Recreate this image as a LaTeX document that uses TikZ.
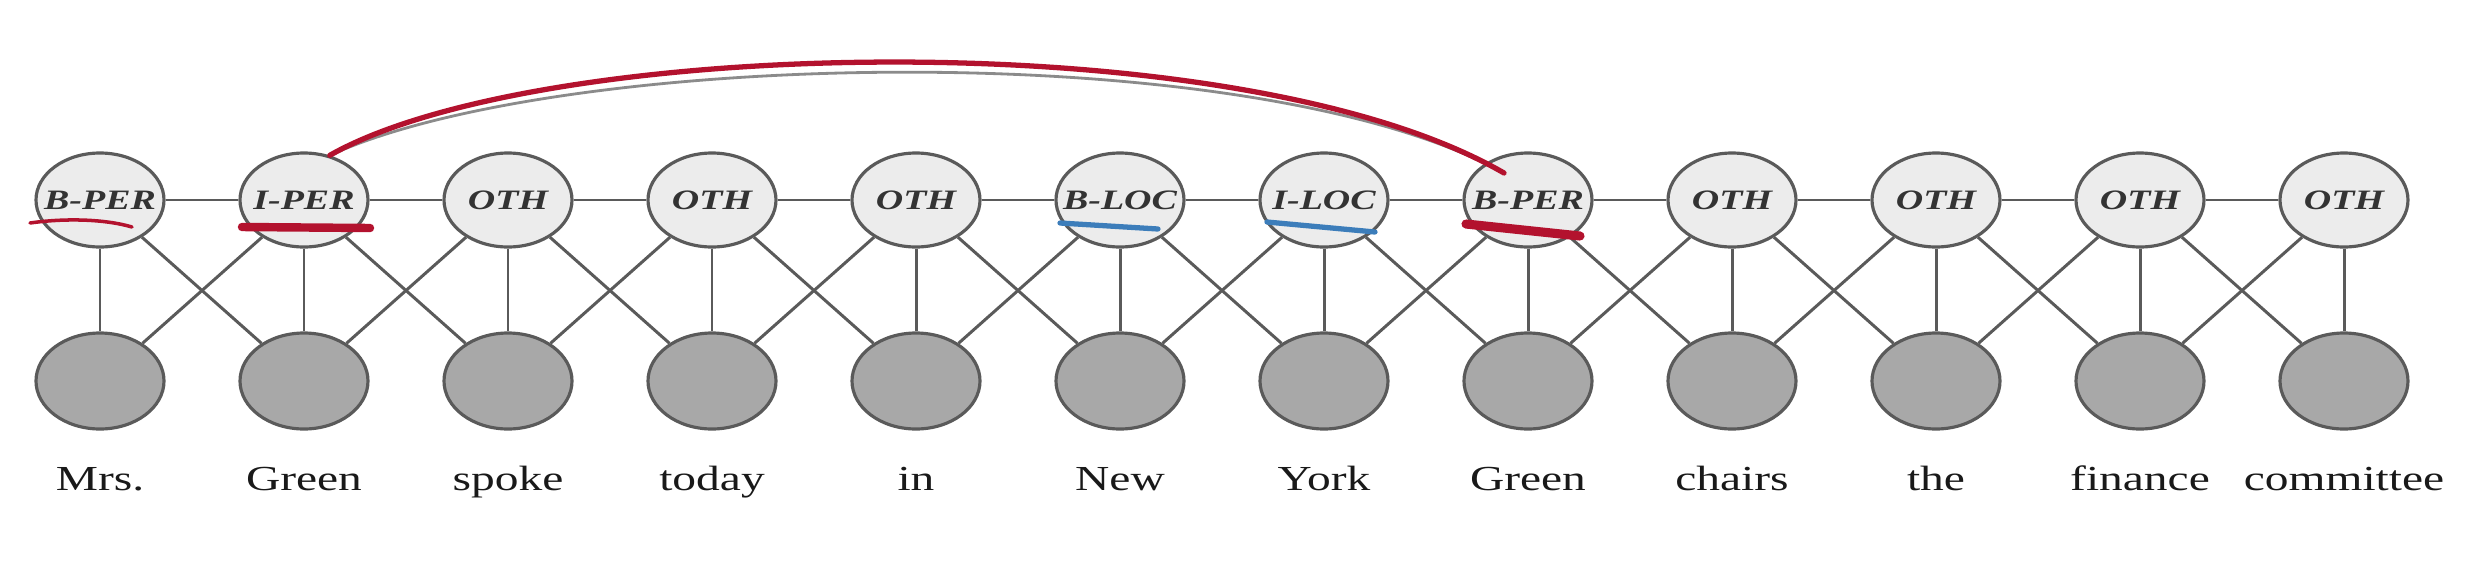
\documentclass[tikz,border=0pt]{standalone}
\usepackage{fontspec}
\setmainfont{Liberation Serif}[FakeStretch=1.35]
\usetikzlibrary{shapes.geometric}
\definecolor{linegray}{HTML}{5A5A5A}
\definecolor{tagfill}{HTML}{ECECEC}
\definecolor{obsfill}{HTML}{A8A8A8}
\definecolor{penred}{HTML}{B3122E}
\definecolor{penblue}{HTML}{3C7DBA}

\begin{document}
\begin{tikzpicture}[
  tag/.style={ellipse, draw=linegray, fill=tagfill, line width=0.9pt, minimum width=1.28cm, minimum height=0.94cm, inner xsep=-0.12cm, inner ysep=0pt, font=\footnotesize\bfseries\itshape, text=black!80},
  obs/.style={ellipse, draw=linegray, fill=obsfill, line width=0.9pt, minimum width=1.28cm, minimum height=0.96cm},
  word/.style={anchor=base, font=\normalsize, text=black!90},
  edge/.style={draw=linegray, line width=0.85pt},
  redpen/.style={draw=penred, line cap=round},
  bluepen/.style={draw=penblue, line cap=round}
]
  \useasboundingbox (0,0) rectangle (24.84,5.82);

  % label row
  \node[tag] (ymrs) at (1.00,3.82) {B-PER};
  \node[tag] (ygreen) at (3.04,3.82) {I-PER};
  \node[tag] (yspoke) at (5.08,3.82) {OTH};
  \node[tag] (ytoday) at (7.12,3.82) {OTH};
  \node[tag] (yin) at (9.16,3.82) {OTH};
  \node[tag] (ynew) at (11.20,3.82) {B-LOC};
  \node[tag] (yyork) at (13.24,3.82) {I-LOC};
  \node[tag] (ygreenb) at (15.28,3.82) {B-PER};
  \node[tag] (ychairs) at (17.32,3.82) {OTH};
  \node[tag] (ythe) at (19.36,3.82) {OTH};
  \node[tag] (yfinance) at (21.40,3.82) {OTH};
  \node[tag] (ycommittee) at (23.44,3.82) {OTH};

  % observed row
  \node[obs] (xmrs) at (1.00,2.01) {};
  \node[obs] (xgreen) at (3.04,2.01) {};
  \node[obs] (xspoke) at (5.08,2.01) {};
  \node[obs] (xtoday) at (7.12,2.01) {};
  \node[obs] (xin) at (9.16,2.01) {};
  \node[obs] (xnew) at (11.20,2.01) {};
  \node[obs] (xyork) at (13.24,2.01) {};
  \node[obs] (xgreenb) at (15.28,2.01) {};
  \node[obs] (xchairs) at (17.32,2.01) {};
  \node[obs] (xthe) at (19.36,2.01) {};
  \node[obs] (xfinance) at (21.40,2.01) {};
  \node[obs] (xcommittee) at (23.44,2.01) {};

  % words
  \node[word] (wmrs) at (1.00,0.92) {Mrs.};
  \node[word] (wgreen) at (3.04,0.92) {Green};
  \node[word] (wspoke) at (5.08,0.92) {spoke};
  \node[word] (wtoday) at (7.12,0.92) {today};
  \node[word] (win) at (9.16,0.92) {in};
  \node[word] (wnew) at (11.20,0.92) {New};
  \node[word] (wyork) at (13.24,0.92) {York};
  \node[word] (wgreenb) at (15.28,0.92) {Green};
  \node[word] (wchairs) at (17.32,0.92) {chairs};
  \node[word] (wthe) at (19.36,0.92) {the};
  \node[word] (wfinance) at (21.40,0.92) {finance};
  \node[word] (wcommittee) at (23.44,0.92) {committee};

  \draw[edge] (ymrs) -- (ygreen) -- (yspoke) -- (ytoday) -- (yin) -- (ynew) -- (yyork)
    -- (ygreenb) -- (ychairs) -- (ythe) -- (yfinance) -- (ycommittee);
  \draw[edge] (ymrs) -- (xmrs) (ygreen) -- (xgreen) (yspoke) -- (xspoke) (ytoday) -- (xtoday)
    (yin) -- (xin) (ynew) -- (xnew) (yyork) -- (xyork) (ygreenb) -- (xgreenb)
    (ychairs) -- (xchairs) (ythe) -- (xthe) (yfinance) -- (xfinance) (ycommittee) -- (xcommittee);
  \draw[edge] (ymrs) -- (xgreen) (ygreen) -- (xspoke) (yspoke) -- (xtoday) (ytoday) -- (xin)
    (yin) -- (xnew) (ynew) -- (xyork) (yyork) -- (xgreenb) (ygreenb) -- (xchairs)
    (ychairs) -- (xthe) (ythe) -- (xfinance) (yfinance) -- (xcommittee);
  \draw[edge] (ygreen) -- (xmrs) (yspoke) -- (xgreen) (ytoday) -- (xspoke) (yin) -- (xtoday)
    (ynew) -- (xin) (yyork) -- (xnew) (ygreenb) -- (xyork) (ychairs) -- (xgreenb)
    (ythe) -- (xchairs) (yfinance) -- (xthe) (ycommittee) -- (xfinance);

  % pen marks
  \draw[redpen, line width=1pt] (0.30,3.59) .. controls (0.65,3.64) and (1.05,3.63) .. (1.32,3.55);
  \draw[redpen, line width=2.4pt] (2.42,3.55) -- (3.70,3.54);
  \draw[redpen, line width=2.6pt] (14.66,3.58) -- (15.80,3.46);
  \draw[bluepen, line width=1.5pt] (10.60,3.59) -- (11.58,3.53);
  \draw[bluepen, line width=1.5pt] (12.67,3.60) -- (13.75,3.50);
  \draw[linegray!70, line width=0.8pt] (ygreen.60) .. controls (5.60,5.32) and (12.50,5.49) .. ([xshift=-0.24cm, yshift=0.27cm]ygreenb.center);
  \draw[redpen, line width=1.5pt] (ygreen.60) .. controls (5.40,5.46) and (12.40,5.62) .. ([xshift=-0.24cm, yshift=0.27cm]ygreenb.center);
\end{tikzpicture}
\end{document}
